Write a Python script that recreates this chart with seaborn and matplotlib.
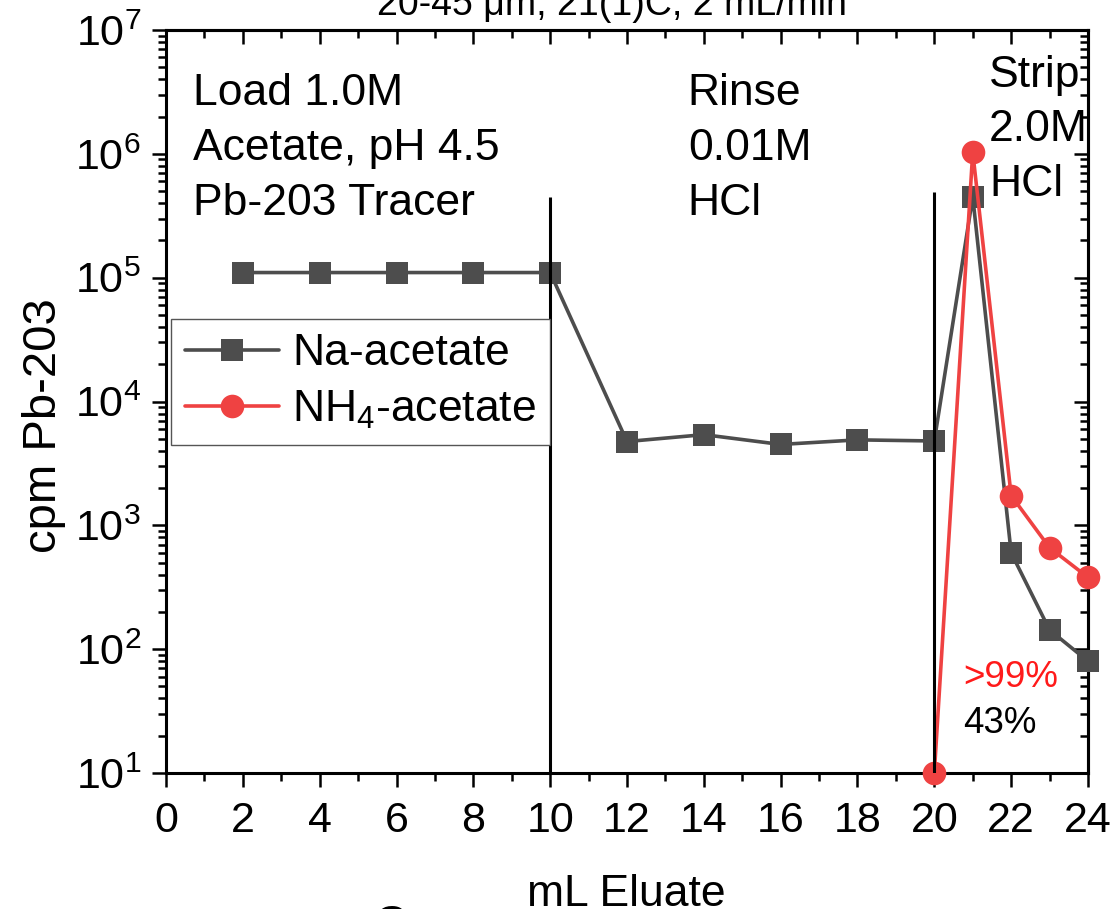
import matplotlib
matplotlib.use("Agg")
import matplotlib.pyplot as plt
from matplotlib.lines import Line2D
from matplotlib.ticker import LogLocator, MultipleLocator, NullFormatter, LogFormatterSciNotation
import numpy as np
import pandas as pd
import seaborn as sns

# ---------------- data ----------------
na_x = [2, 4, 6, 8, 10, 12, 14, 16, 18, 20, 21, 22, 23, 24]
na_y = [1.1e5, 1.1e5, 1.1e5, 1.1e5, 1.1e5, 4.75e3, 5.4e3, 4.5e3, 4.9e3, 4.8e3,
        4.5e5, 6.0e2, 1.43e2, 8.0e1]
nh4_x = [20, 21, 22, 23, 24]
nh4_y = [1.0e1, 1.03e6, 1.74e3, 6.6e2, 3.8e2]

series_names = ["Na-acetate", "NH$_4$-acetate"]
phase_x = [10, 20]
phase_top = [4.5e5, 4.9e5]
x_ticks = list(range(0, 25, 2))

title_text = "20-45 \u03bcm, 21(1)C, 2 mL/min"
load_text = "Load 1.0M\nAcetate, pH 4.5\nPb-203 Tracer"
rinse_text = "Rinse\n0.01M\nHCl"
strip_text = "Strip\n2.0M\nHCl"
pct_nh4 = ">99%"
pct_na = "43%"

# ---------------- style ----------------
sns.set_style("ticks")
plt.rcParams.update({
    "font.family": ["Liberation Sans", "DejaVu Sans"],
    "mathtext.fontset": "custom",
    "mathtext.rm": "Liberation Sans",
    "mathtext.it": "Liberation Sans:italic",
    "mathtext.bf": "Liberation Sans:bold",
    "mathtext.default": "regular",
    "axes.linewidth": 2.2,
    "text.color": "black",
    "axes.labelcolor": "black",
    "axes.edgecolor": "black",
    "xtick.color": "black",
    "ytick.color": "black",
})

GRAY = "#4d4d4d"
RED = "#ef4242"
MSIZE = {series_names[0]: 16, series_names[1]: 17}

df = pd.concat([
    pd.DataFrame({"mL": na_x, "cpm": na_y, "series": series_names[0]}),
    pd.DataFrame({"mL": nh4_x, "cpm": nh4_y, "series": series_names[1]}),
], ignore_index=True)

fig = plt.figure(figsize=(11.12, 9.09), dpi=100)
ax = fig.add_axes([0.1493, 0.1496, 0.8291, 0.8174])

sns.lineplot(data=df, x="mL", y="cpm", hue="series", style="series",
             hue_order=series_names, style_order=series_names,
             palette={series_names[0]: GRAY, series_names[1]: RED},
             markers={series_names[0]: "s", series_names[1]: "o"},
             dashes=False, markersize=16, markeredgewidth=0, linewidth=2.6,
             estimator=None, sort=False, legend=False, ax=ax)
for ln in ax.get_lines():
    ln.set_clip_on(False)
    ln.set_zorder(3)
    if ln.get_marker() == "o":
        ln.set_markersize(MSIZE[series_names[1]])
    else:
        ln.set_markersize(MSIZE[series_names[0]])

ax.set_yscale("log")
ax.set_xlim(0, 24)
ax.set_ylim(10, 1e7)

ax.vlines(phase_x, 10, phase_top, colors="black", linewidth=2.2, zorder=4)

# ticks
ax.xaxis.set_major_locator(MultipleLocator(2))
ax.xaxis.set_minor_locator(MultipleLocator(1))
ax.set_xticks(x_ticks)
ax.yaxis.set_major_locator(LogLocator(base=10, numticks=10))
ax.yaxis.set_minor_locator(LogLocator(base=10, subs=np.arange(2, 10), numticks=20))
ax.yaxis.set_minor_formatter(NullFormatter())
ax.yaxis.set_major_formatter(LogFormatterSciNotation())
ax.tick_params(which="major", direction="out", length=10, width=1.8, labelsize=31)
ax.tick_params(which="minor", direction="out", length=5.5, width=1.8)
ax.tick_params(axis="x", which="major", pad=10)
ax.tick_params(axis="y", which="major", pad=8)

secx = ax.secondary_xaxis("top")
secx.xaxis.set_major_locator(MultipleLocator(2))
secx.xaxis.set_minor_locator(MultipleLocator(1))
secx.tick_params(which="major", direction="in", length=10, width=1.8, labeltop=False)
secx.tick_params(which="minor", direction="in", length=5.5, width=1.8)
secx.spines["top"].set_linewidth(2.2)

secy = ax.secondary_yaxis("right")
secy.yaxis.set_major_locator(LogLocator(base=10, numticks=10))
secy.yaxis.set_minor_locator(LogLocator(base=10, subs=np.arange(2, 10), numticks=20))
secy.yaxis.set_minor_formatter(NullFormatter())
secy.tick_params(which="major", direction="in", length=10, width=1.8, labelright=False)
secy.tick_params(which="minor", direction="in", length=5.5, width=1.8)
secy.spines["right"].set_linewidth(2.2)

# labels
ax.set_xlabel("mL Eluate", fontsize=32)
ax.xaxis.label.set_va("baseline")
ax.xaxis.set_label_coords(0.499, -0.1790)
ax.set_ylabel("cpm Pb-203", fontsize=34)
ax.yaxis.set_label_coords(-0.1085, 0.467)

# annotations
ax.text(0.0293, 0.942, load_text, transform=ax.transAxes, fontsize=32,
        ha="left", va="top", linespacing=1.43)
ax.text(0.566, 0.942, rinse_text, transform=ax.transAxes, fontsize=32,
        ha="left", va="top", linespacing=1.43)
ax.text(0.8926, 0.967, strip_text, transform=ax.transAxes, fontsize=32,
        ha="left", va="top", linespacing=1.43)
ax.text(0.8644, 0.128, pct_nh4, transform=ax.transAxes, fontsize=26.5,
        color="#ff1a1a", ha="left", va="center")
ax.text(0.8644, 0.0666, pct_na, transform=ax.transAxes, fontsize=26.5,
        color="black", ha="left", va="center")

# legend
handles = [
    Line2D([], [], color=GRAY, marker="s", markersize=MSIZE[series_names[0]],
           markeredgewidth=0, linewidth=2.6),
    Line2D([], [], color=RED, marker="o", markersize=MSIZE[series_names[1]],
           markeredgewidth=0, linewidth=2.6),
]
leg = ax.legend(handles, series_names, loc="upper left", bbox_to_anchor=(0.0054, 0.611),
                borderaxespad=0, fontsize=32, frameon=True, fancybox=False,
                handlelength=2.1, handletextpad=0.3, borderpad=0.32,
                labelspacing=0.33, framealpha=1)
leg.get_frame().set_edgecolor("#555555")
leg.get_frame().set_linewidth(1.0)
leg.set_zorder(5)

fig.text(0.5504, 0.9835, title_text, ha="center", va="baseline", fontsize=27)
fig.text(0.351, 0.0045, "C", ha="center", va="top", fontsize=32, fontweight="bold")

fig.savefig("out.png", dpi=100)
